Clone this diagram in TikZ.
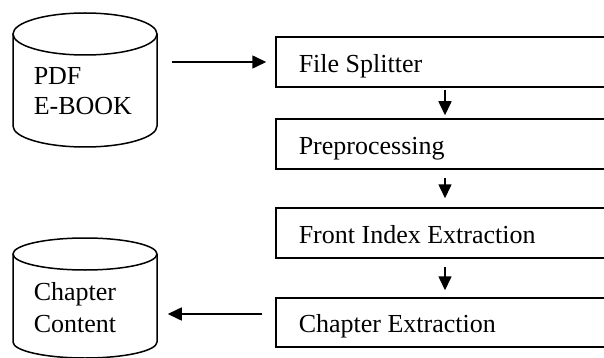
\documentclass[tikz,border=0pt]{standalone}
\usepackage{fontspec}
\setmainfont{Liberation Serif}
\usetikzlibrary{arrows.meta,calc}
\begin{document}
\begin{tikzpicture}[x=1pt,y=-1pt, line width=1.5pt,
  procbox/.style={draw, rectangle, minimum width=364pt, minimum height=50pt, inner sep=0pt},
  lbl/.style={font=\fontsize{26}{30}\selectfont, inner sep=0pt, anchor=base west},
  flow/.style={-{Triangle[length=14pt,width=13pt]}, line width=1.6pt}]
\useasboundingbox (0,0) rectangle (604,358);
\clip (0,0) rectangle (604,358);
% database cylinders
\draw (85,34) ellipse [x radius=72pt, y radius=21pt];
\draw (13,34) -- (13,126) arc[start angle=180, end angle=360, x radius=72pt, y radius=21pt] -- (157,34);
\draw (85,254) ellipse [x radius=72pt, y radius=16pt];
\draw (13,254) -- (13,342) arc[start angle=180, end angle=360, x radius=72pt, y radius=16pt] -- (157,254);
\node[inner sep=0pt, minimum width=144pt, minimum height=134pt] (db1) at (85,80) {};
\node[inner sep=0pt, minimum width=144pt, minimum height=120pt] (db2) at (85,298) {};
\node[lbl] (t1) at (33,85) {PDF};
\node[lbl] (t2) at (33,115) {E-BOOK};
\node[lbl] (t3) at (33,300) {Chapter};
\node[lbl] (t4) at (33,332) {Content};
% process boxes
\node[procbox] (b1) at (458,62) {};
\node[procbox] (b2) at (458,144) {};
\node[procbox] (b3) at (458,233) {};
\node[procbox, minimum height=49pt] (b4) at (458,322.5) {};
\node[lbl] (l1) at (298,73) {File Splitter};
\node[lbl] (l2) at (298,155) {Preprocessing};
\node[lbl] (l3) at (298,243) {Front Index Extraction};
\node[lbl] (l4) at (298,332) {Chapter Extraction};
% connectors
\coordinate (ax) at (445,0);
\coordinate (ay) at (0,314);
\draw[flow, shorten <=14pt, shorten >=9pt] (db1.east |- b1.west) -- (b1.west);
\draw[flow, shorten <=2pt, shorten >=3pt] (b1.south -| ax) -- (b2.north -| ax);
\draw[flow, shorten <=8pt, shorten >=9pt] (b2.south -| ax) -- (b3.north -| ax);
\draw[flow, shorten <=8pt, shorten >=7pt] (b3.south -| ax) -- (b4.north -| ax);
\draw[flow, shorten <=13pt, shorten >=10pt] (b4.west |- ay) -- (db2.east |- ay);
\end{tikzpicture}
\end{document}
